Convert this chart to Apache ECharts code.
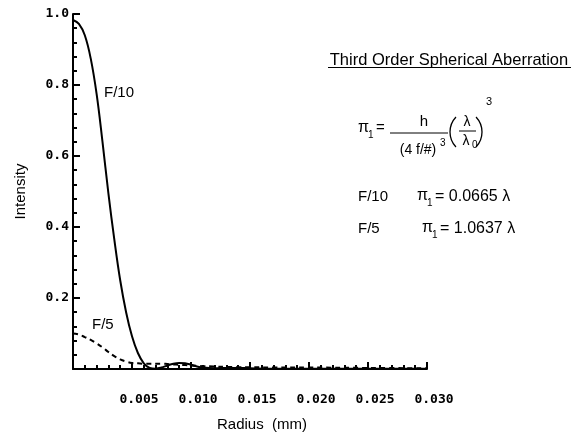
<!DOCTYPE html>
<html>
<head>
<meta charset="utf-8">
<script src="https://cdn.jsdelivr.net/npm/echarts@6/dist/echarts.min.js"></script>
<style>
    html, body { margin: 0; padding: 0; background: #fff; }
    #chart { width: 584px; height: 439px; }
</style>
</head>
<body>
<div id="chart"></div>
<script>
// radius (mm)
var radius = [0, 0.0005, 0.001, 0.0015, 0.002, 0.0025, 0.003, 0.0035, 0.004, 0.0045,
    0.005, 0.0055, 0.006, 0.0065, 0.007, 0.0075, 0.008, 0.0085, 0.009, 0.0095,
    0.010, 0.0105, 0.011, 0.012, 0.013, 0.014, 0.015, 0.017, 0.020, 0.025, 0.030];
// F/10 - solid
var intensityF10 = [0.983, 0.972, 0.94, 0.875, 0.775, 0.64, 0.495, 0.365, 0.25, 0.16,
    0.092, 0.045, 0.016, 0.003, 0.001, 0.004, 0.010, 0.015, 0.017, 0.016,
    0.012, 0.007, 0.004, 0.002, 0.003, 0.003, 0.002, 0.001, 0.001, 0.0005, 0.0005];
// F/5 - dashed
var intensityF5 = [0.10, 0.097, 0.09, 0.082, 0.072, 0.061, 0.048, 0.036, 0.027, 0.021,
    0.017, 0.016, 0.015, 0.015, 0.015, 0.015, 0.014, 0.013, 0.012, 0.011,
    0.010, 0.009, 0.008, 0.007, 0.006, 0.005, 0.005, 0.004, 0.004, 0.003, 0.002];
var xTicks = ['0.005', '0.010', '0.015', '0.020', '0.025', '0.030'];
var yTicks = ['0.2', '0.4', '0.6', '0.8', '1.0'];

function pairs(xs, ys) {
    var out = [];
    for (var i = 0; i < xs.length; i++) {
        out.push([xs[i], ys[i]]);
    }
    return out;
}

var sans = 'Liberation Sans, Arial, sans-serif';
var tickFont = {
    color: '#000',
    fontFamily: 'DejaVu Sans Mono, monospace',
    fontWeight: 'bold',
    fontSize: 13
};

// text helper for the annotation block
function txt(s, x, y, size, align) {
    return {
        type: 'text',
        x: x,
        y: y,
        style: {
            text: s,
            font: size + 'px ' + sans,
            fill: '#000',
            align: align || 'left',
            verticalAlign: 'middle'
        }
    };
}
function line(x1, y1, x2, y2, w) {
    return {
        type: 'line',
        shape: {x1: x1, y1: y1, x2: x2, y2: y2},
        style: {stroke: '#000', lineWidth: w || 1}
    };
}
// thin tall bracket, drawn as an arc
function paren(cx, cy, r, a0, a1) {
    return {
        type: 'arc',
        shape: {cx: cx, cy: cy, r: r, startAngle: a0, endAngle: a1},
        style: {stroke: '#000', lineWidth: 1.3, fill: null}
    };
}

var chart = echarts.init(document.getElementById('chart'));
var option = {
    animation: false,
    backgroundColor: '#fff',
    grid: {left: 73, right: 157, top: 14, bottom: 70},
    xAxis: {
        type: 'value',
        min: 0,
        max: 0.03,
        interval: 0.005,
        name: 'Radius  (mm)',
        nameLocation: 'middle',
        nameGap: 48,
        nameTextStyle: {color: '#000', fontFamily: sans, fontSize: 15, padding: [0, 0, 0, 24]},
        axisLine: {lineStyle: {color: '#000', width: 2}},
        axisTick: {inside: true, length: 7, lineStyle: {color: '#000', width: 2}},
        minorTick: {show: true, splitNumber: 5, length: 4, lineStyle: {color: '#000', width: 2}},
        splitLine: {show: false},
        axisLabel: Object.assign({
            margin: 24,
            padding: [0, 0, 0, 14],
            formatter: function (v) {
                var i = Math.round(v / 0.005) - 1;
                return i >= 0 ? xTicks[i] : '';
            }
        }, tickFont)
    },
    yAxis: {
        type: 'value',
        min: 0,
        max: 1,
        interval: 0.2,
        name: 'Intensity',
        nameLocation: 'middle',
        nameGap: 45,
        nameTextStyle: {color: '#000', fontFamily: sans, fontSize: 15},
        axisLine: {show: true, lineStyle: {color: '#000', width: 2}},
        axisTick: {show: true, inside: true, length: 7, lineStyle: {color: '#000', width: 2}},
        minorTick: {show: true, splitNumber: 5, length: 4, lineStyle: {color: '#000', width: 2}},
        splitLine: {show: false},
        axisLabel: Object.assign({
            margin: 4,
            formatter: function (v) {
                var i = Math.round(v / 0.2) - 1;
                return i >= 0 ? yTicks[i] : '';
            }
        }, tickFont)
    },
    series: [
        {
            name: 'F/10',
            type: 'line',
            data: pairs(radius, intensityF10),
            showSymbol: false,
            smooth: 0.4,
            lineStyle: {color: '#000', width: 2},
            z: 3
        },
        {
            name: 'F/5',
            type: 'line',
            data: pairs(radius, intensityF5),
            showSymbol: false,
            smooth: 0.4,
            lineStyle: {color: '#000', width: 2, type: [5, 4]},
            z: 3
        }
    ],
    graphic: [
        // curve labels
        txt('F/10', 104, 93, 15),
        txt('F/5', 92, 325, 15),
        // title
        txt('Third Order Spherical Aberration', 449, 60, 16.5, 'center'),
        line(328, 67.5, 571, 67.5, 1),
        // formula
        txt('\u03c0', 358, 128, 16),
        txt('1', 368, 135, 10),
        txt('=', 376, 128, 15),
        txt('h', 424, 122, 15, 'center'),
        line(390, 133, 448, 133, 1),
        txt('(4 f/#)', 418, 150, 14, 'center'),
        txt('3', 440, 143, 10),
        paren(472, 132, 22, Math.PI * 0.76, Math.PI * 1.24),
        txt('\u03bb', 467, 122, 14, 'center'),
        line(459, 131, 476, 131, 1),
        txt('\u03bb', 466, 141, 14, 'center'),
        txt('0', 472, 145, 10),
        paren(460, 132, 22, -Math.PI * 0.24, Math.PI * 0.24),
        txt('3', 486, 102, 11),
        // values
        txt('F/10', 358, 197, 15),
        txt('\u03c0', 417, 196, 16),
        txt('1', 427, 203, 10),
        txt('= 0.0665 \u03bb', 435, 197, 16),
        txt('F/5', 358, 229, 15),
        txt('\u03c0', 422, 228, 16),
        txt('1', 432, 235, 10),
        txt('= 1.0637 \u03bb', 440, 229, 16)
    ]
};
chart.setOption(option);
</script>
</body>
</html>
